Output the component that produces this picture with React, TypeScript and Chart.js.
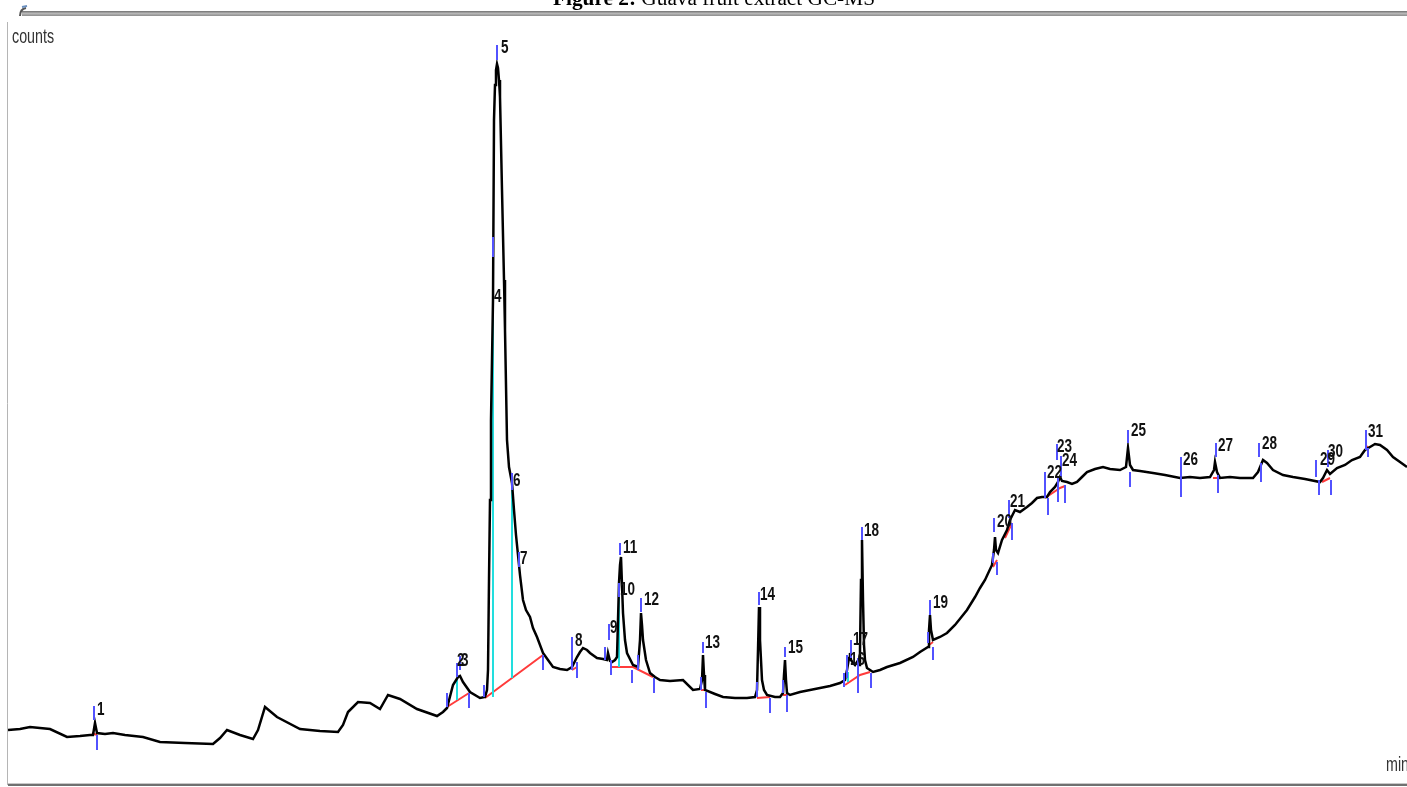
import React, { useEffect, useRef } from "react";
import { Chart, registerables } from "chart.js";

Chart.register(...registerables);

// Total ion chromatogram: [retention time (min), counts (x1000)]
const tic: [number, number][] = [
  [0.16, 55], [0.4, 56], [0.6, 58], [1.0, 56], [1.34, 48], [1.6, 49], [1.8, 50], [1.86, 50], [1.9, 62], [1.94, 52],
  [2.1, 51], [2.26, 52], [2.5, 50], [2.86, 48], [3.2, 43], [3.7, 42], [4.26, 41], [4.4, 47], [4.54, 55], [4.8, 50],
  [5.06, 46], [5.16, 55], [5.3, 78], [5.54, 68], [6.0, 56], [6.4, 54], [6.76, 53], [6.86, 60], [6.96, 73], [7.16, 83],
  [7.4, 82], [7.6, 76], [7.76, 90], [8.0, 86], [8.34, 76], [8.74, 69], [8.86, 73], [8.94, 77], [9.06, 100], [9.16, 108],
  [9.2, 109], [9.26, 103], [9.4, 93], [9.6, 87], [9.7, 88], [9.74, 95], [9.76, 115], [9.78, 205], [9.8, 285], [9.82, 365],
  [9.84, 425], [9.86, 485], [9.88, 665], [9.9, 700], [9.92, 715], [9.94, 721], [9.96, 717], [9.98, 705], [10.0, 688],
  [10.04, 595], [10.08, 505], [10.1, 455], [10.14, 345], [10.18, 318], [10.24, 302], [10.28, 275], [10.32, 250],
  [10.36, 230], [10.4, 210], [10.46, 185], [10.52, 175], [10.6, 168], [10.66, 157], [10.74, 148], [10.86, 132],
  [10.96, 125], [11.06, 118], [11.2, 116], [11.34, 115], [11.44, 118], [11.54, 128], [11.6, 133], [11.66, 137],
  [11.74, 135], [11.8, 132], [11.94, 127], [12.06, 126], [12.14, 125], [12.16, 132], [12.2, 124], [12.24, 123],
  [12.3, 125], [12.34, 128], [12.36, 165], [12.38, 202], [12.4, 220], [12.42, 228], [12.44, 200], [12.46, 172],
  [12.5, 145], [12.54, 132], [12.66, 120], [12.76, 118], [12.8, 145], [12.82, 172], [12.84, 160], [12.86, 145],
  [12.92, 125], [13.0, 112], [13.1, 108], [13.2, 105], [13.4, 104], [13.66, 105], [13.86, 95], [14.0, 96], [14.04, 105],
  [14.06, 130], [14.08, 110], [14.1, 95], [14.3, 91], [14.46, 88], [14.7, 87], [14.94, 87], [15.1, 88], [15.14, 95],
  [15.16, 135], [15.18, 178], [15.2, 145], [15.24, 105], [15.28, 95], [15.34, 90], [15.5, 88], [15.6, 88], [15.66, 92],
  [15.68, 110], [15.7, 125], [15.72, 105], [15.74, 92], [15.8, 90], [16.0, 93], [16.2, 95], [16.4, 97], [16.6, 99],
  [16.8, 102], [16.9, 105], [16.94, 115], [16.98, 127], [17.0, 132], [17.02, 125], [17.06, 122], [17.1, 120],
  [17.14, 123], [17.18, 120], [17.2, 135], [17.22, 205], [17.24, 245], [17.26, 185], [17.28, 140], [17.3, 125],
  [17.34, 117], [17.46, 113], [17.6, 115], [17.74, 118], [18.0, 122], [18.26, 128], [18.4, 133], [18.56, 138],
  [18.58, 155], [18.6, 170], [18.62, 155], [18.66, 145], [18.8, 148], [18.94, 152], [19.1, 160], [19.34, 175],
  [19.5, 188], [19.6, 197], [19.7, 205], [19.84, 220], [19.88, 235], [19.9, 248], [19.92, 235], [19.96, 232],
  [20.04, 245], [20.14, 255], [20.2, 265], [20.3, 275], [20.4, 273], [20.54, 278], [20.64, 282], [20.74, 287],
  [20.84, 288], [20.94, 288], [21.0, 293], [21.1, 298], [21.16, 303], [21.2, 308], [21.24, 304], [21.34, 303],
  [21.44, 301], [21.54, 303], [21.64, 308], [21.74, 313], [21.9, 316], [22.06, 318], [22.2, 316], [22.4, 315],
  [22.52, 318], [22.56, 337], [22.6, 320], [22.66, 315], [22.8, 314], [23.06, 312], [23.3, 310], [23.6, 307],
  [23.8, 308], [24.0, 307], [24.2, 308], [24.28, 315], [24.3, 323], [24.34, 313], [24.4, 307], [24.6, 308], [24.8, 307],
  [25.06, 307], [25.16, 313], [25.26, 325], [25.34, 322], [25.46, 315], [25.66, 310], [25.86, 308], [26.1, 306],
  [26.4, 303], [26.46, 307], [26.54, 315], [26.6, 311], [26.74, 317], [26.9, 320], [27.04, 325], [27.2, 328],
  [27.3, 335], [27.4, 338], [27.5, 341], [27.6, 340], [27.74, 335], [27.86, 328], [28.0, 323], [28.14, 318],
];

// Peak number labels: [text, rt (min), counts]
const peakLabels: [string, number, number][] = [
  ["1", 1.94, 75], ["2", 9.14, 124], ["3", 9.22, 124], ["4", 9.88, 488], ["5", 10.02, 737], ["6", 10.26, 304],
  ["7", 10.4, 226], ["8", 11.5, 144], ["9", 12.2, 157], ["10", 12.4, 195], ["11", 12.46, 237], ["12", 12.88, 185],
  ["13", 14.1, 142], ["14", 15.2, 190], ["15", 15.76, 137], ["16", 17.0, 125], ["17", 17.06, 145], ["18", 17.28, 254],
  ["19", 18.66, 182], ["20", 19.94, 263], ["21", 20.2, 283], ["22", 20.94, 312], ["23", 21.14, 338], ["24", 21.24, 324],
  ["25", 22.62, 354], ["26", 23.66, 325], ["27", 24.36, 339], ["28", 25.24, 341], ["29", 26.4, 325], ["30", 26.56, 333],
  ["31", 27.36, 353],
];

// Apex markers: [rt, top counts, bottom counts]
const apexMarks: [number, number, number][] = [
  [1.88, 79, 65], [9.14, 122, 108], [9.2, 129, 115], [9.86, 548, 528], [9.94, 740, 725], [10.24, 312, 295],
  [10.38, 233, 218], [11.44, 148, 130], [12.18, 161, 145], [12.38, 202, 188], [12.4, 242, 230], [12.82, 187, 173],
  [14.06, 143, 132], [15.18, 193, 180], [15.7, 138, 128], [16.94, 130, 107], [17.02, 145, 127], [17.24, 258, 245],
  [18.6, 185, 170], [19.88, 267, 253], [20.18, 285, 267], [20.9, 313, 287], [21.14, 341, 325], [21.22, 329, 308],
  [22.56, 355, 342], [23.62, 328, 308], [24.32, 342, 328], [25.18, 342, 328], [26.32, 325, 308], [26.56, 335, 318],
  [27.32, 355, 335],
];

// Peak start / end markers: [rt, top counts, bottom counts]
const boundMarks: [number, number, number][] = [
  [1.94, 50, 35], [8.94, 92, 78], [9.38, 92, 77], [9.68, 100, 88], [10.86, 130, 115], [11.44, 132, 115],
  [11.54, 123, 107], [12.1, 138, 125], [12.22, 125, 110], [12.64, 115, 102], [12.76, 130, 115], [13.08, 107, 92],
  [14.02, 108, 95], [14.12, 93, 77], [15.14, 103, 88], [15.4, 87, 72], [15.66, 105, 92], [15.74, 90, 73],
  [16.88, 112, 98], [17.16, 127, 92], [17.42, 112, 97], [18.56, 153, 142], [18.66, 138, 125], [19.86, 232, 222],
  [19.94, 223, 210], [20.24, 262, 245], [20.96, 287, 270], [21.16, 308, 283], [21.3, 300, 282], [22.6, 313, 298],
  [23.62, 308, 288], [24.36, 310, 292], [25.22, 322, 303], [26.38, 305, 290], [26.62, 305, 290], [27.36, 337, 328],
];

// Perpendicular drop lines: [rt, top counts, bottom counts]
const dropLines: [number, number, number][] = [
  [9.14, 107, 85], [9.86, 528, 88], [10.24, 295, 107], [12.38, 188, 118], [16.96, 113, 103],
];

// Integration baselines: list of [rt, counts] polylines
const baselines: [number, number][][] = [
  [[1.84, 52], [1.94, 50]],
  [[8.94, 78], [9.38, 92]],
  [[9.7, 87], [10.86, 130]],
  [[11.44, 115], [11.54, 118]],
  [[12.24, 118], [12.66, 118], [13.06, 108]],
  [[14.02, 95], [14.12, 95]],
  [[15.14, 87], [15.4, 88]],
  [[15.66, 90], [15.74, 90]],
  [[16.9, 100], [17.2, 110], [17.4, 113]],
  [[18.58, 140], [18.66, 143]],
  [[19.86, 218], [19.94, 225]],
  [[20.1, 247], [20.24, 262]],
  [[20.9, 287], [21.2, 297], [21.3, 299]],
  [[24.26, 307], [24.36, 307]],
  [[26.44, 303], [26.6, 307]],
  [[27.3, 335], [27.36, 339]],
];

const RT_MIN = 0.16;
const RT_MAX = 28.14;
const COUNTS_MAX = 765;

function verticalSegments(list: [number, number, number][]) {
  const out: { x: number; y: number | null }[] = [];
  for (const [t, a, b] of list) {
    out.push({ x: t, y: a }, { x: t, y: b }, { x: t, y: null });
  }
  return out;
}

function polylines(list: [number, number][][]) {
  const out: { x: number; y: number | null }[] = [];
  for (const line of list) {
    for (const [t, v] of line) out.push({ x: t, y: v });
    out.push({ x: line[line.length - 1][0], y: null });
  }
  return out;
}

const decorPlugin = {
  id: "decor",
  afterDraw(chart: any) {
    const ctx = chart.ctx as CanvasRenderingContext2D;
    const { left, right, top, bottom } = chart.chartArea;
    const xs = chart.scales.x;
    const ys = chart.scales.y;
    ctx.save();

    // Title (partially out of view at the top)
    const t1 = "Figure 2:";
    const t2 = " Guava fruit extract GC-MS";
    const size = 20;
    ctx.textBaseline = "alphabetic";
    ctx.fillStyle = "#000";
    ctx.font = `bold ${size}px "Liberation Serif", "Times New Roman", serif`;
    const w1 = ctx.measureText(t1).width;
    ctx.font = `${size}px "Liberation Serif", "Times New Roman", serif`;
    const w2 = ctx.measureText(t2).width;
    const sx = 322 / (w1 + w2);
    ctx.save();
    ctx.translate(553, 5);
    ctx.scale(sx, 1);
    ctx.font = `bold ${size}px "Liberation Serif", "Times New Roman", serif`;
    ctx.fillText(t1, 0, 0);
    ctx.font = `${size}px "Liberation Serif", "Times New Roman", serif`;
    ctx.fillText(t2, w1, 0);
    ctx.restore();

    // Top bar
    const g = ctx.createLinearGradient(0, 11, 0, 17);
    g.addColorStop(0, "#6f6f6f");
    g.addColorStop(0.4, "#b8b8b8");
    g.addColorStop(0.7, "#9a9a9a");
    g.addColorStop(1, "#7a7a7a");
    ctx.fillStyle = g;
    ctx.fillRect(22, 11, right - 22, 5);
    // corner hook
    ctx.strokeStyle = "#555";
    ctx.lineWidth = 2;
    ctx.beginPath();
    ctx.moveTo(20, 16);
    ctx.quadraticCurveTo(20, 9, 26, 8);
    ctx.stroke();
    ctx.strokeStyle = "#6a8fc0";
    ctx.beginPath();
    ctx.moveTo(22, 7);
    ctx.lineTo(27, 6);
    ctx.stroke();

    // Left axis line
    ctx.strokeStyle = "#b5b5b5";
    ctx.lineWidth = 1;
    ctx.beginPath();
    ctx.moveTo(left - 0.5, top + 2);
    ctx.lineTo(left - 0.5, bottom);
    ctx.stroke();

    // Bottom axis line
    ctx.fillStyle = "#c8c8c8";
    ctx.fillRect(left, bottom - 2, right - left, 1);
    ctx.fillStyle = "#707070";
    ctx.fillRect(left, bottom - 1, right - left, 2);

    // Axis captions
    ctx.fillStyle = "#333";
    ctx.textBaseline = "middle";
    ctx.font = `21px "Liberation Sans", Arial, sans-serif`;
    ctx.save();
    ctx.translate(12, 37);
    ctx.scale(0.68, 1);
    ctx.fillText("counts", 0, 0);
    ctx.restore();
    ctx.save();
    ctx.translate(1386, 765);
    ctx.scale(0.68, 1);
    ctx.fillText("min", 0, 0);
    ctx.restore();

    // Peak labels
    ctx.fillStyle = "#111";
    ctx.font = `bold 18px "Liberation Sans", Arial, sans-serif`;
    ctx.textBaseline = "middle";
    for (const [txt, t, v] of peakLabels) {
      const px = xs.getPixelForValue(t);
      const py = ys.getPixelForValue(v);
      ctx.save();
      ctx.translate(px, py);
      ctx.scale(0.75, 1);
      ctx.fillText(txt, 0, 0);
      ctx.restore();
    }
    ctx.restore();
  },
};

export default function App() {
  const ref = useRef<HTMLCanvasElement | null>(null);
  useEffect(() => {
    if (!ref.current) return;
    const chart = new Chart(ref.current, {
      type: "scatter",
      data: {
        datasets: [
          {
            label: "apex",
            data: verticalSegments(apexMarks) as any,
            showLine: true,
            spanGaps: false,
            borderColor: "#5252ff",
            borderWidth: 2,
            pointRadius: 0,
          },
          {
            label: "bounds",
            data: verticalSegments(boundMarks) as any,
            showLine: true,
            spanGaps: false,
            borderColor: "#5252ff",
            borderWidth: 2,
            pointRadius: 0,
          },
          {
            label: "TIC",
            data: tic.map(([x, y]) => ({ x, y })),
            showLine: true,
            borderColor: "#000",
            borderWidth: 2.5,
            pointRadius: 0,
            tension: 0,
          },
          {
            label: "drop",
            data: verticalSegments(dropLines) as any,
            showLine: true,
            spanGaps: false,
            borderColor: "#22dede",
            borderWidth: 2,
            pointRadius: 0,
          },
          {
            label: "baseline",
            data: polylines(baselines) as any,
            showLine: true,
            spanGaps: false,
            borderColor: "#ff3b3b",
            borderWidth: 2,
            pointRadius: 0,
          },
        ],
      },
      options: {
        responsive: false,
        maintainAspectRatio: false,
        animation: false,
        devicePixelRatio: 1,
        events: [],
        layout: { padding: { left: 8, right: 0, top: 20, bottom: 2 } },
        scales: {
          x: { type: "linear", min: RT_MIN, max: RT_MAX, display: false },
          y: { type: "linear", min: 0, max: COUNTS_MAX, display: false },
        },
        plugins: { legend: { display: false }, tooltip: { enabled: false }, title: { display: false } },
      },
      plugins: [decorPlugin],
    });
    return () => chart.destroy();
  }, []);
  return (
    <div style={{ position: "absolute", left: 0, top: 0, width: 1407, height: 787, background: "#fff" }}>
      <canvas ref={ref} width={1407} height={787} style={{ display: "block" }} />
    </div>
  );
}
